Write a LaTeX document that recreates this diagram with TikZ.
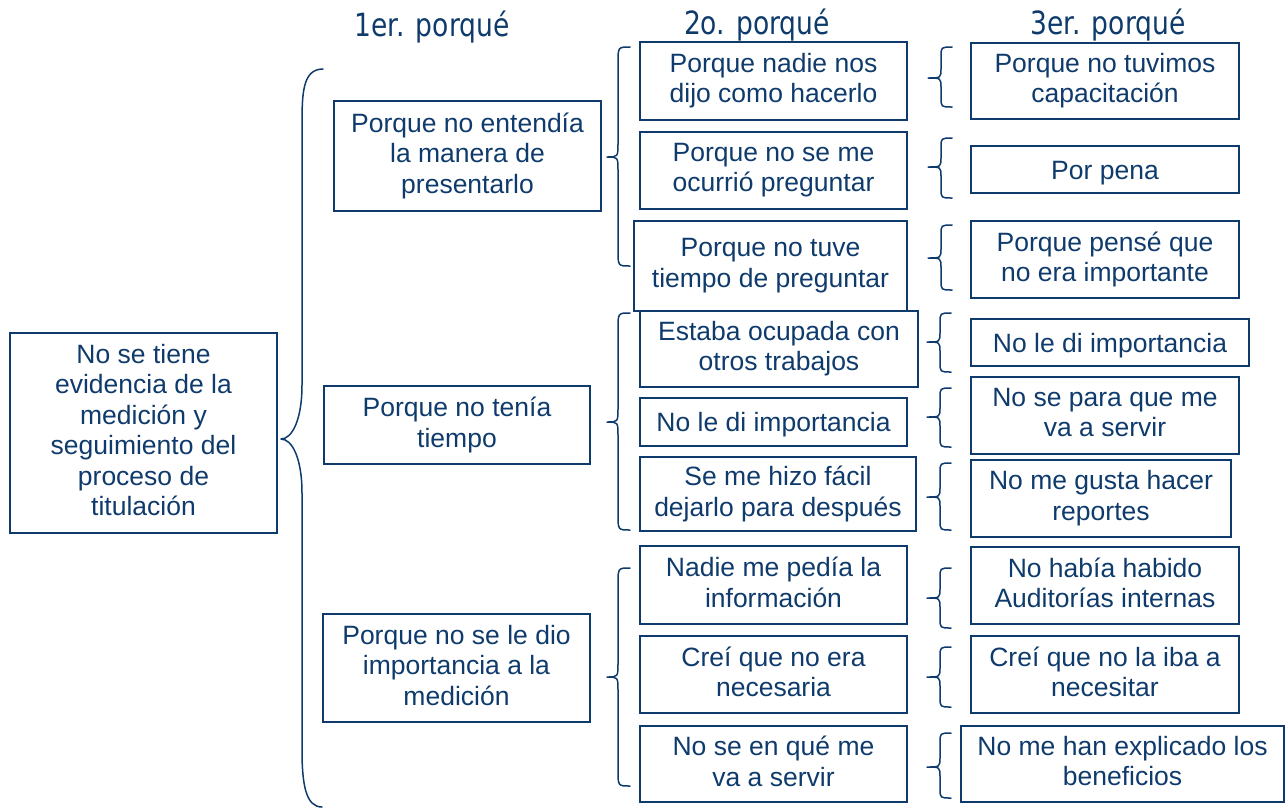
\documentclass[tikz,border=0pt]{standalone}
\usepackage{fontspec}
\setmainfont{Liberation Sans}
\newfontfamily\hdrfont[FakeStretch=0.83]{DejaVu Sans}
\definecolor{navy}{HTML}{0F3B6C}
\tikzset{
 box/.style={draw=navy, line width=1.6pt, text=navy, align=center, inner sep=0pt,
   font=\fontsize{26.5}{30.5}\selectfont,
   execute at begin node={\rule{0pt}{25pt}}, text depth=6pt},
 hdr/.style={text=navy, font=\hdrfont\fontsize{32}{36}\selectfont},
 brc/.style={draw=navy, line width=1.5pt, line cap=round, line join=round},
}
% #1 xr, #2 xv, #3 xt, #4 yt, #5 ym, #6 yb, #7 end radius, #8 mid radius
\newcommand\mybrace[8]{%
 \draw[brc] (#1,#4) .. controls ({#2},{#4}) .. ({#2},{#4+#7}) -- ({#2},{#5-#8})
   .. controls ({#2},{#5}) .. ({#3},{#5})
   .. controls ({#2},{#5}) .. ({#2},{#5+#8}) -- ({#2},{#6-#7})
   .. controls ({#2},{#6}) .. ({#1},{#6});}
\begin{document}
\begin{tikzpicture}[x=1pt,y=-1pt]
\useasboundingbox (0,0) rectangle (1285,807);
% headers
\node[hdr] (h1) at (432,27) {1er. porqué};
\node[hdr] (h2) at (757,25) {2o. porqué};
\node[hdr] (h3) at (1108,25) {3er. porqué};
% root
\node[box, minimum width=267pt, minimum height=200pt] (root) at (143.5,433)
  {No se tiene\\evidencia de la\\medición y\\seguimiento del\\proceso de\\titulación};
% level 1
\node[box, minimum width=267pt, minimum height=110pt] (a1) at (467.5,156)
  {Porque no entendía\\la manera de\\presentarlo};
\node[box, minimum width=266pt, minimum height=78pt] (a2) at (457,425)
  {Porque no tenía\\tiempo};
\node[box, minimum width=267pt, minimum height=108pt] (a3) at (456.5,668)
  {Porque no se le dio\\importancia a la\\medición};
% level 2
\node[box, minimum width=267pt, minimum height=78pt] (b1) at (773.5,81)
  {Porque nadie nos\\dijo como hacerlo};
\node[box, minimum width=267pt, minimum height=77pt] (b2) at (773.5,170.5)
  {Porque no se me\\ocurrió preguntar};
\node[box, minimum width=273pt, minimum height=90pt] (b3) at (770.5,266)
  {Porque no tuve\\tiempo de preguntar};
\node[box, minimum width=278pt, minimum height=76pt] (b4) at (779,349)
  {Estaba ocupada con\\otros trabajos};
\node[box, minimum width=267pt, minimum height=48pt] (b5) at (773.5,422)
  {No le di importancia};
\node[box, minimum width=276pt, minimum height=74pt] (b6) at (778,494)
  {Se me hizo fácil\\dejarlo para después};
\node[box, minimum width=267pt, minimum height=78pt] (b7) at (773.5,585)
  {Nadie me pedía la\\información};
\node[box, minimum width=267pt, minimum height=77pt] (b8) at (773.5,674.5)
  {Creí que no era\\necesaria};
\node[box, minimum width=267pt, minimum height=76pt] (b9) at (773.5,764)
  {No se en qué me\\va a servir};
% level 3
\node[box, minimum width=268pt, minimum height=76pt] (c1) at (1105,81)
  {Porque no tuvimos\\capacitación};
\node[box, minimum width=268pt, minimum height=47pt] (c2) at (1105,169.5)
  {Por pena};
\node[box, minimum width=268pt, minimum height=77pt] (c3) at (1105,259.5)
  {Porque pensé que\\no era importante};
\node[box, minimum width=278pt, minimum height=47pt] (c4) at (1110,342.5)
  {No le di importancia};
\node[box, minimum width=268pt, minimum height=77pt] (c5) at (1105,415.5)
  {No se para que me\\va a servir};
\node[box, minimum width=260pt, minimum height=77pt] (c6) at (1101,498.5)
  {No me gusta hacer\\reportes};
\node[box, minimum width=268pt, minimum height=77pt] (c7) at (1105,585.5)
  {No había habido\\Auditorías internas};
\node[box, minimum width=268pt, minimum height=77pt] (c8) at (1105,674.5)
  {Creí que no la iba a\\necesitar};
\node[box, minimum width=323pt, minimum height=76pt] (c9) at (1122.5,764)
  {No me han explicado los\\beneficios};
% big brace
\draw[brc] (323,69) .. controls (302,69) and (302,95) .. (302,127) -- (302,385)
  .. controls (302,420) and (292,439) .. (281,439)
  .. controls (292,439) and (302,458) .. (302,493) -- (302,750)
  .. controls (302,785) and (306,807) .. (322,807);
% level-2 braces
\mybrace{630}{618}{607}{47}{157}{266}{16}{14}
\mybrace{630}{618}{607}{313}{422}{530}{16}{14}
\mybrace{630}{618}{607}{568}{677}{786}{16}{14}
% level-3 braces
\mybrace{952}{941}{928}{47}{78}{107}{10}{10}
\mybrace{952}{941}{928}{138}{167}{198}{10}{10}
\mybrace{952}{941}{928}{225}{258}{290}{10}{10}
\mybrace{951}{940}{927}{313}{342}{372}{10}{10}
\mybrace{951}{940}{927}{388}{417}{447}{10}{10}
\mybrace{951}{940}{927}{463}{497}{530}{10}{10}
\mybrace{951}{940}{927}{568}{598}{628}{10}{10}
\mybrace{951}{940}{927}{647}{677}{707}{10}{10}
\mybrace{951}{940}{927}{733}{767}{798}{10}{10}
\end{tikzpicture}
\end{document}
